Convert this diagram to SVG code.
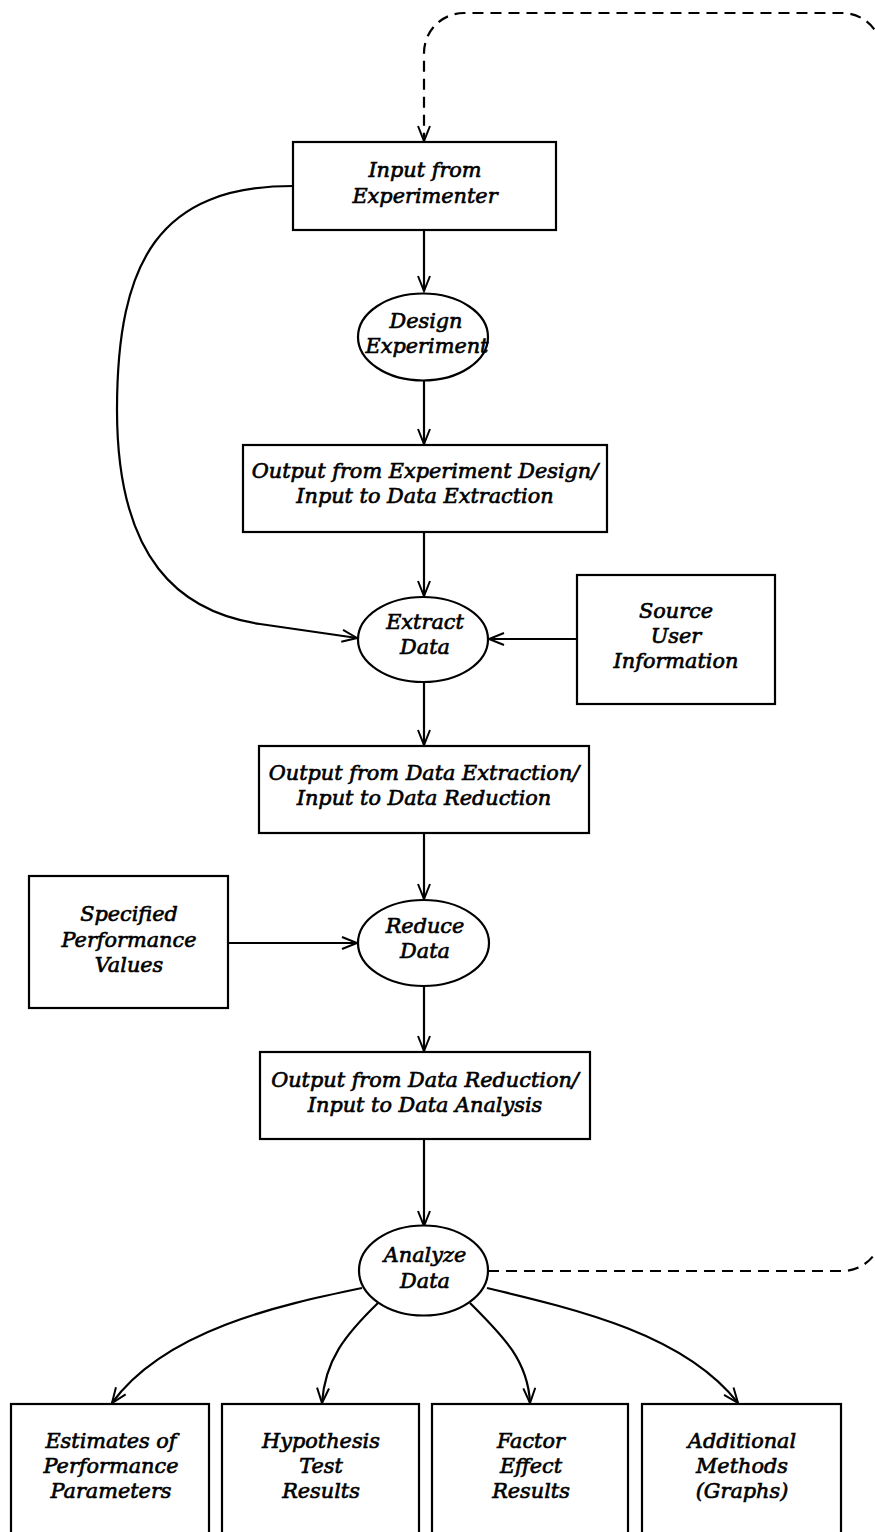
<svg xmlns="http://www.w3.org/2000/svg" width="875" height="1532" viewBox="0 0 875 1532">
  <style>
    .box { fill: #fff; stroke: #000; stroke-width: 2.2; }
    .oval { fill: #fff; stroke: #000; stroke-width: 2.2; }
    .edge { fill: none; stroke: #000; stroke-width: 2.2; marker-end: url(#arrow); }
    .dash { stroke-dasharray: 11 7; }
    .lbl { font-family: "DejaVu Serif", "Liberation Serif", serif; font-style: italic; font-size: 20.8px; fill: #000; stroke: #000; stroke-width: 0.65; text-anchor: middle; }
  </style>
  <defs>
    <marker id="arrow" markerUnits="userSpaceOnUse" markerWidth="20" markerHeight="16" refX="16" refY="7" orient="auto">
      <path d="M1,1 L16,7 L1,13" fill="none" stroke="#000" stroke-width="2"/>
    </marker>
  </defs>
  <rect width="875" height="1532" fill="#fff"/>

  <!-- connectors -->
  <g id="connectors">
    <!-- feedback loop from analysis back to experimenter input -->
    <path class="edge dash" d="M488,1271 H842 A40,40 0 0 0 882,1231 V53 A40,40 0 0 0 842,13 H464 A40,40 0 0 0 424,53 V141"/>
    <path class="edge" d="M424,230 V291"/>
    <path class="edge" d="M424,380 V444"/>
    <path class="edge" d="M424,532 V596"/>
    <path class="edge" d="M293,186 C160,186 117,260 117,410 C117,560 180,612 260,624 C300,630 330,634 357,638"/>
    <path class="edge" d="M577,639 H489"/>
    <path class="edge" d="M424,682 V745"/>
    <path class="edge" d="M424,833 V899"/>
    <path class="edge" d="M228,943 H357"/>
    <path class="edge" d="M424,986 V1051"/>
    <path class="edge" d="M424,1139 V1226"/>
    <path class="edge" d="M362,1288 C280,1305 165,1330 112,1403"/>
    <path class="edge" d="M378,1303 C345,1335 325,1360 322,1403"/>
    <path class="edge" d="M470,1303 C502,1335 528,1360 530,1403"/>
    <path class="edge" d="M487,1288 C580,1310 685,1335 738,1403"/>
  </g>

  <g id="input-experimenter">
    <rect class="box" x="293" y="142" width="263" height="88"/>
    <text class="lbl" x="425" y="177">Input from</text>
    <text class="lbl" x="425" y="203">Experimenter</text>
  </g>

  <g id="design-experiment">
    <ellipse class="oval" cx="423" cy="337" rx="65" ry="43.5"/>
    <text class="lbl" x="426" y="328">Design</text>
    <text class="lbl" x="427" y="353">Experiment</text>
  </g>

  <g id="output-design">
    <rect class="box" x="243" y="445" width="364" height="87"/>
    <text class="lbl" x="425" y="478">Output from Experiment Design/</text>
    <text class="lbl" x="425" y="503">Input to Data Extraction</text>
  </g>

  <g id="extract-data">
    <ellipse class="oval" cx="423" cy="639.5" rx="65" ry="42.5"/>
    <text class="lbl" x="425" y="629">Extract</text>
    <text class="lbl" x="425" y="654">Data</text>
  </g>

  <g id="source-user-info">
    <rect class="box" x="577" y="575" width="198" height="129"/>
    <text class="lbl" x="676" y="618">Source</text>
    <text class="lbl" x="676" y="643">User</text>
    <text class="lbl" x="676" y="668">Information</text>
  </g>

  <g id="output-extraction">
    <rect class="box" x="259" y="746" width="330" height="87"/>
    <text class="lbl" x="424" y="780">Output from Data Extraction/</text>
    <text class="lbl" x="424" y="805">Input to Data Reduction</text>
  </g>

  <g id="specified-values">
    <rect class="box" x="29" y="876" width="199" height="132"/>
    <text class="lbl" x="129" y="921">Specified</text>
    <text class="lbl" x="129" y="947">Performance</text>
    <text class="lbl" x="129" y="972">Values</text>
  </g>

  <g id="reduce-data">
    <ellipse class="oval" cx="423.5" cy="943" rx="65.5" ry="43"/>
    <text class="lbl" x="425" y="933">Reduce</text>
    <text class="lbl" x="425" y="958">Data</text>
  </g>

  <g id="output-reduction">
    <rect class="box" x="260" y="1052" width="330" height="87"/>
    <text class="lbl" x="425" y="1087">Output from Data Reduction/</text>
    <text class="lbl" x="425" y="1112">Input to Data Analysis</text>
  </g>

  <g id="analyze-data">
    <ellipse class="oval" cx="423.5" cy="1270.5" rx="64.5" ry="45"/>
    <text class="lbl" x="425" y="1262">Analyze</text>
    <text class="lbl" x="425" y="1288">Data</text>
  </g>

  <g id="estimates">
    <rect class="box" x="11" y="1404" width="198" height="140"/>
    <text class="lbl" x="111" y="1448">Estimates of</text>
    <text class="lbl" x="111" y="1473">Performance</text>
    <text class="lbl" x="111" y="1498">Parameters</text>
  </g>

  <g id="hypothesis">
    <rect class="box" x="222" y="1404" width="197" height="140"/>
    <text class="lbl" x="321" y="1448">Hypothesis</text>
    <text class="lbl" x="321" y="1473">Test</text>
    <text class="lbl" x="321" y="1498">Results</text>
  </g>

  <g id="factor-effect">
    <rect class="box" x="432" y="1404" width="196" height="140"/>
    <text class="lbl" x="531" y="1448">Factor</text>
    <text class="lbl" x="531" y="1473">Effect</text>
    <text class="lbl" x="531" y="1498">Results</text>
  </g>

  <g id="additional-methods">
    <rect class="box" x="642" y="1404" width="199" height="140"/>
    <text class="lbl" x="742" y="1448">Additional</text>
    <text class="lbl" x="742" y="1473">Methods</text>
    <text class="lbl" x="742" y="1498">(Graphs)</text>
  </g>
</svg>
